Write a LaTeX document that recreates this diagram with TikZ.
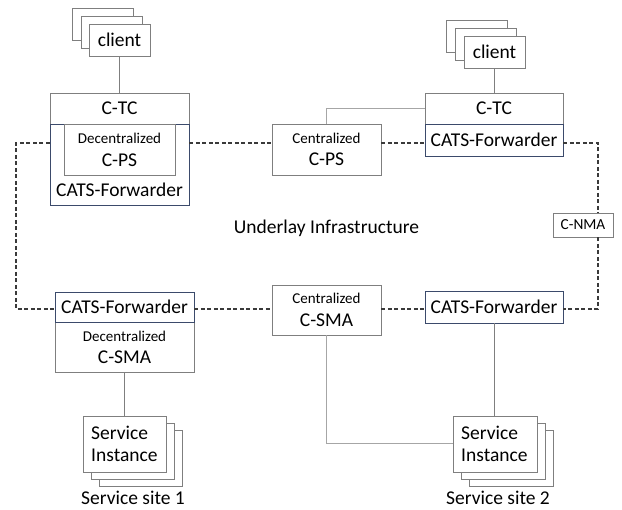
\documentclass[tikz,border=0pt]{standalone}
\usepackage{fontspec}
\setmainfont{Carlito}
\newcommand\fbig{\fontsize{19.5}{22}\selectfont}
\newcommand\fsmall{\fontsize{15}{17}\selectfont}
\newcommand\fnma{\fontsize{15.3}{18}\selectfont}
\definecolor{boxgray}{HTML}{7F7F7F}
\definecolor{fwdblue}{HTML}{3B4A6B}
\definecolor{dashgray}{HTML}{3A3A3A}
\definecolor{lightg}{HTML}{A6A6A6}
\begin{document}
\begin{tikzpicture}[x=1pt,y=-1pt,
  gbox/.style={draw=boxgray, line width=0.8pt, rectangle, inner sep=0pt, fill=white, font=\fbig},
  fbox/.style={draw=fwdblue, line width=0.9pt, rectangle, inner sep=0pt, font=\fbig},
  txt/.style={inner sep=0pt, font=\fbig},
  stxt/.style={inner sep=0pt, font=\fsmall},
  ulink/.style={draw=dashgray, line width=1.4pt, dash pattern=on 4pt off 2.5pt},
  conn/.style={draw=boxgray, line width=0.8pt},
  lconn/.style={draw=lightg, line width=0.8pt}]
\useasboundingbox (0,0) rectangle (622,510);

% ---------- top left ----------
\node[gbox, minimum width=61pt, minimum height=32pt] (cl1c) at (102.5,24) {};
\node[gbox, minimum width=61pt, minimum height=32pt] (cl1b) at (111.5,32) {};
\node[gbox, minimum width=61pt, minimum height=32pt] (cl1) at (119.5,40) {client};
\node[gbox, minimum width=139pt, minimum height=31pt] (ctc1) at (119.5,108.5) {C-TC};
\node[fbox, minimum width=139pt, minimum height=81pt] (fwd1) at (119.5,164.5) {};
\node[gbox, minimum width=111pt, minimum height=51pt] (cps1) at (119.5,149.5) {};
\node[stxt] (cps1a) at (119.5,138) {Decentralized};
\node[txt] (cps1b) at (119.5,160) {C-PS};
\node[txt] (fwd1t) at (119.5,190) {CATS-Forwarder};

% ---------- centralized C-PS ----------
\node[gbox, minimum width=109pt, minimum height=51pt] (ccps) at (326.5,149.5) {};
\node[stxt] (ccpsa) at (326.5,138) {Centralized};
\node[txt] (ccpsb) at (326.5,159) {C-PS};

% ---------- top right ----------
\node[gbox, minimum width=61pt, minimum height=32pt] (cl2c) at (477,36) {};
\node[gbox, minimum width=61pt, minimum height=32pt] (cl2b) at (485.5,44) {};
\node[gbox, minimum width=61pt, minimum height=32pt] (cl2) at (494.5,52) {client};
\node[gbox, minimum width=138pt, minimum height=31pt] (ctc2) at (494,108.5) {C-TC};
\node[fbox, minimum width=138pt, minimum height=32pt] (fwd2) at (494,140) {CATS-Forwarder};

% ---------- C-NMA and label ----------
\node[gbox, minimum width=60pt, minimum height=24pt, font=\fnma] (cnma) at (583,225) {C-NMA};
\node[txt] (under) at (326.5,228) {Underlay Infrastructure};

% ---------- bottom left ----------
\node[gbox, minimum width=139pt, minimum height=50pt] (sma1) at (124.5,347) {};
\node[fbox, minimum width=139pt, minimum height=30pt] (fwd3) at (124.5,307) {CATS-Forwarder};
\node[stxt] (sma1a) at (124.5,336) {Decentralized};
\node[txt] (sma1b) at (124.5,357) {C-SMA};

% ---------- centralized C-SMA ----------
\node[gbox, minimum width=109pt, minimum height=50pt] (csma) at (326.5,310) {};
\node[stxt] (csmaa) at (326.5,298) {Centralized};
\node[txt] (csmab) at (326.5,320) {C-SMA};

% ---------- bottom right ----------
\node[fbox, minimum width=138pt, minimum height=32pt] (fwd4) at (494,307) {CATS-Forwarder};

% ---------- service instances ----------
\node[gbox, minimum width=83pt, minimum height=56pt] (si1c) at (140.5,458) {};
\node[gbox, minimum width=83pt, minimum height=56pt] (si1b) at (132.5,451) {};
\node[gbox, minimum width=83pt, minimum height=56pt] (si1) at (124.5,444) {};
\node[txt, anchor=west] (si1a) at (91,433) {Service};
\node[txt, anchor=west] (si1t) at (91,455) {Instance};
\node[txt] (site1) at (133,498) {Service site 1};

\node[gbox, minimum width=84pt, minimum height=56pt] (si2c) at (511,458) {};
\node[gbox, minimum width=84pt, minimum height=56pt] (si2b) at (503,451) {};
\node[gbox, minimum width=84pt, minimum height=56pt] (si2) at (495,444) {};
\node[txt, anchor=west] (si2a) at (461,433) {Service};
\node[txt, anchor=west] (si2t) at (461,455) {Instance};
\node[txt] (site2) at (498,497.5) {Service site 2};

% ---------- helper coordinates ----------
\coordinate (ya) at (0,143);
\coordinate (yb) at (0,309);
\coordinate (lc1) at (16,143);
\coordinate (lc2) at (16,309);
\coordinate (rc1) at (598,143);
\coordinate (rc2) at (598,309);
\coordinate (gl) at (326.5,443);

% ---------- solid connectors ----------
\draw[conn] (cl1.south) -- (ctc1.north);
\draw[conn] (cl2.south) -- (cl2.south |- ctc2.north);
\draw[conn] (sma1.south) -- (si1.north);
\draw[conn] (fwd4.south) -- (fwd4.south |- si2.north);
\draw[lconn] (ccps.north) |- (ctc2.west);
\draw[lconn] (csma.south) -- (gl) -- (si2.west |- gl);

% ---------- dashed underlay links ----------
\draw[ulink] (fwd1.west |- ya) -- (lc1) -- (lc2) -- (fwd3.west |- yb);
\draw[ulink] (fwd1.east |- ya) -- (ccps.west |- ya);
\draw[ulink] (ccps.east |- ya) -- (fwd2.west |- ya);
\draw[ulink] (fwd2.east |- ya) -- (rc1) -- (cnma.north -| rc1);
\draw[ulink] (cnma.south -| rc2) -- (rc2) -- (fwd4.east |- yb);
\draw[ulink] (fwd3.east |- yb) -- (csma.west |- yb);
\draw[ulink] (csma.east |- yb) -- (fwd4.west |- yb);
\end{tikzpicture}
\end{document}
